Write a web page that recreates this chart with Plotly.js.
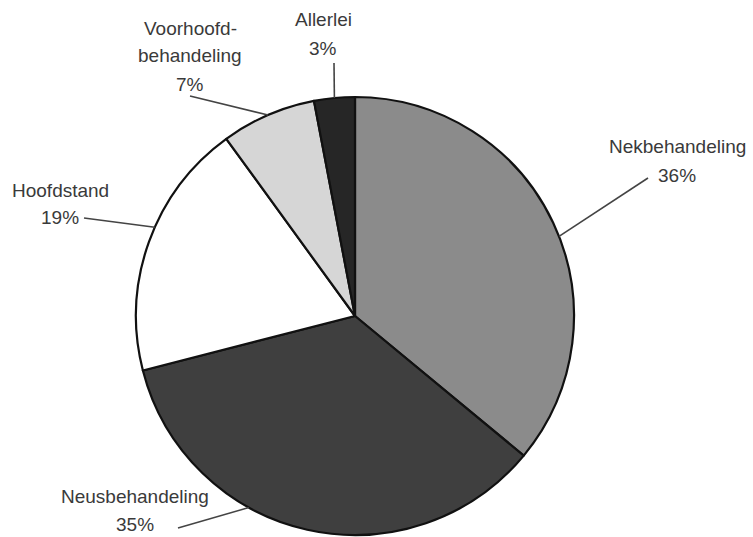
<!DOCTYPE html>
<html>
<head>
<meta charset="utf-8">
<script src="https://cdn.plot.ly/plotly-3.0.1.min.js"></script>
<style>
html,body{margin:0;padding:0;overflow:hidden;background:#fff;}
#chart{width:753px;height:560px;}
</style>
</head>
<body>
<div id="chart"></div>
<script>
// Data
const categories = ["Nekbehandeling", "Neusbehandeling", "Hoofdstand", "Voorhoofdbehandeling", "Allerlei"];
const values = [36, 35, 19, 7, 3];
const labelLines = [
  ["Nekbehandeling", "36%"],
  ["Neusbehandeling", "35%"],
  ["Hoofdstand", "19%"],
  ["Voorhoofd-", "behandeling", "7%"],
  ["Allerlei", "3%"]
];
const colors = ["#8b8b8b", "#3f3f3f", "#ffffff", "#d6d6d6", "#262626"];

// Layout geometry (pixels)
const W = 753, H = 560;
const cx = 355, cy = 316, R = 219;

// label placement: text center (px), leader start (px), position within slice (0..1)
const labelPos = [
  {x: 677, y: 161, lx: 648, ly: 178, frac: 0.53},
  {x: 135, y: 510, lx: 178, ly: 528, frac: 0.63},
  {x: 60,  y: 204, lx: 84,  ly: 218, frac: 0.56},
  {x: 190, y: 56,  lx: 190, ly: 96,  frac: 0.5},
  {x: 323, y: 34,  lx: 334, ly: 63,  frac: 0.5}
];
const lineGap = 28;

const px = x => x / W;
const py = y => 1 - y / H;

const total = values.reduce((a, b) => a + b, 0);
const annotations = [];
const shapes = [];
let cum = 0;
values.forEach((v, i) => {
  const p = labelPos[i];
  const f = (cum + v * p.frac) / total;
  cum += v;
  const ang = f * 2 * Math.PI; // clockwise from 12 o'clock
  const tx = cx + R * Math.sin(ang);
  const ty = cy - R * Math.cos(ang);
  const lines = labelLines[i];
  const n = lines.length;
  lines.forEach((t, j) => {
    const yy = p.y + (j - (n - 1) / 2) * lineGap;
    annotations.push({
      text: t, x: px(p.x), y: py(yy), xref: "paper", yref: "paper",
      showarrow: false, xanchor: "center", yanchor: "middle",
      font: {family: "Liberation Sans, Arial, sans-serif", size: 19, color: "#3a3a3a"}
    });
  });
  shapes.push({
    type: "line", xref: "paper", yref: "paper",
    x0: px(p.lx), y0: py(p.ly), x1: px(tx), y1: py(ty),
    line: {color: "#444444", width: 1.6}
  });
});

const trace = {
  type: "pie",
  labels: categories,
  values: values,
  sort: false,
  direction: "clockwise",
  rotation: 0,
  textinfo: "none",
  hoverinfo: "label+percent",
  marker: {colors: colors, line: {color: "#111111", width: 2.2}},
  domain: {x: [(cx - R) / W, (cx + R) / W], y: [(H - cy - R) / H, (H - cy + R) / H]},
  showlegend: false
};

const layout = {
  width: W, height: H,
  margin: {l: 0, r: 0, t: 0, b: 0},
  paper_bgcolor: "#ffffff",
  showlegend: false,
  annotations: annotations,
  shapes: shapes
};

Plotly.newPlot("chart", [trace], layout, {displayModeBar: false, staticPlot: true});
</script>
</body>
</html>
